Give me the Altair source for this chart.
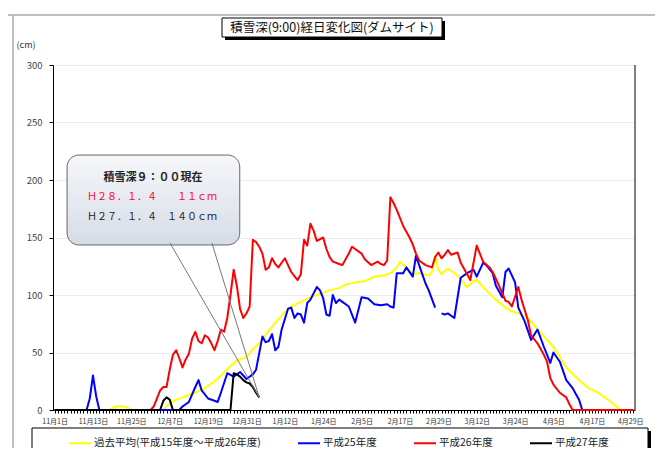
import altair as alt
import pandas as pd

FONT = "Noto Sans CJK JP"

# ---- axis labels (day index 0 = 11月1日, every 12 days) ----
x_labels = ["11月1日", "11月13日", "11月25日", "12月7日", "12月19日", "12月31日",
            "1月12日", "1月24日", "2月5日", "2月17日", "2月29日", "3月12日",
            "3月24日", "4月5日", "4月17日", "4月29日"]
label_step = 12
n_days = 182
y_ticks = [0, 50, 100, 150, 200, 250, 300]

series_names = ["過去平均(平成15年度～平成26年度)", "平成25年度", "平成26年度", "平成27年度"]
series_colors = ["#ffff00", "#0000ff", "#ff0000", "#000000"]
series_widths = [2, 2, 2, 4]

# ---- series: (day index, snow depth cm) ----
avg_points = [(0, 0), (17, 0), (19, 3), (22, 3), (24, 0), (34, 0), (36, 6), (38, 9), (40, 11),
              (42, 13), (44, 15), (47, 19), (50, 25), (52, 30), (55, 38), (57, 43), (60, 46),
              (62, 53), (64, 58), (67, 69), (70, 79), (72, 85), (74, 90), (77, 94), (80, 98),
              (83, 101), (86, 104), (89, 106), (91, 109), (94, 111), (97, 112), (100, 116),
              (103, 117), (105, 119), (107, 124), (108, 129), (110, 124), (112, 118), (114, 119),
              (117, 117), (118, 120), (119, 134), (120, 122), (121, 118), (122, 121), (123, 123),
              (126, 117), (129, 107), (131, 112), (132, 113), (135, 104), (138, 96), (142, 87),
              (145, 84), (148, 80), (152, 67), (156, 55), (160, 37), (164, 26), (167, 19),
              (170, 15), (174, 7), (177, 0), (181, 0)]

h25_points = [(0, 0), (10, 0), (11, 10), (12, 30), (13, 12), (14, 0), (39, 0), (40, 3), (42, 7),
              (44, 20), (45, 26), (46, 17), (48, 10), (50, 8), (51, 7), (52, 15), (54, 32),
              (56, 29), (58, 33), (60, 27), (62, 31), (63, 35), (65, 64), (66, 59), (67, 60),
              (68, 66), (69, 52), (70, 55), (71, 70), (73, 88), (74, 89), (75, 80), (76, 84),
              (77, 83), (78, 76), (79, 93), (80, 96), (82, 107), (83, 104), (84, 97), (85, 83),
              (86, 82), (87, 100), (88, 93), (89, 96), (90, 94), (92, 90), (94, 76), (96, 98),
              (98, 97), (100, 92), (102, 91), (104, 92), (105, 90), (106, 89), (107, 119),
              (109, 119), (110, 124), (112, 116), (113, 134), (115, 118), (116, 110), (117, 104),
              (119, 89), (120, None), (121, 84), (122, 83), (123, 84), (124, 82), (125, 80),
              (127, 115), (129, 119), (131, 122), (132, 116), (134, 128), (135, 126), (137, 119),
              (138, 108), (140, 98), (141, 120), (142, 123), (144, 111), (145, 89), (147, 77),
              (149, 61), (151, 70), (153, 55), (155, 41), (156, 50), (158, 42), (160, 26),
              (162, 19), (164, 9), (165, 0), (181, 0)]

h26_points = [(0, 0), (30, 0), (31, 3), (33, 17), (34, 20), (35, 20), (36, 35), (37, 48), (38, 52),
              (39, 45), (40, 37), (41, 44), (42, 49), (43, 62), (44, 68), (45, 60), (46, 58),
              (47, 65), (48, 63), (49, 58), (50, 52), (51, 60), (52, 70), (53, 68), (54, 80),
              (55, 100), (56, 122), (57, 108), (58, 88), (59, 80), (60, 84), (61, 90), (62, 148),
              (63, 146), (64, 142), (65, 136), (66, 122), (67, 124), (68, 132), (69, 127),
              (70, 124), (71, 128), (72, 132), (73, 126), (74, 120), (76, 113), (77, 118),
              (78, 148), (79, 143), (80, 162), (81, 156), (82, 147), (84, 150), (85, 140),
              (86, 133), (87, 129), (89, 127), (90, 126), (92, 136), (93, 142), (94, 140),
              (96, 136), (97, 131), (99, 126), (101, 129), (102, 127), (103, 126), (104, 130),
              (105, 185), (106, 180), (107, 174), (109, 160), (110, 155), (111, 150), (112, 144),
              (113, 136), (114, 130), (116, 126), (118, 124), (119, 133), (120, 137), (121, 132),
              (122, 135), (123, 139), (124, 135), (126, 137), (127, 128), (129, 118), (130, 113),
              (132, 143), (133, 136), (134, 129), (136, 124), (137, 120), (139, 108), (141, 95),
              (142, 94), (143, 90), (145, 107), (146, 96), (148, 78), (149, 65), (151, 58),
              (153, 48), (154, 42), (155, 28), (156, 22), (158, 15), (160, 11), (161, 5),
              (162, 0), (181, 0)]

h27_points = [(0, 0), (33, 0), (34, 8), (35, 11), (36, 9), (37, 0), (55, 0), (56, 32), (57, 31),
              (58, 29), (59, 26), (60, 24), (61, 23), (62, 20), (63, 15), (64, 11)]

# ---- callout text ----
callout_title = "積雪深９：００現在"
callout_rows = [("Ｈ２８．１．４", "１１ｃｍ", "#ff0033"), ("Ｈ２７．１．４", "１４０ｃｍ", "#222222")]
chart_title = "積雪深(9:00)経日変化図(ダムサイト)"

rows = []
for name, pts in zip(series_names, [avg_points, h25_points, h26_points, h27_points]):
    part = 0
    for d, v in pts:
        if v is None:
            part += 1
            continue
        rows.append({"day": d, "value": v, "series": name, "part": part})
df = pd.DataFrame(rows)

W, H = 582, 345
x_scale = alt.Scale(domain=[-0.5, n_days - 0.5], nice=False, zero=False)
y_scale = alt.Scale(domain=[0, 300], nice=False, zero=True)

label_arr = "[" + ",".join("'" + s + "'" for s in x_labels) + "]"
x_label_axis = alt.Axis(orient="bottom", values=[i * label_step for i in range(len(x_labels))],
                        labelExpr=label_arr + "[round(datum.value / " + str(label_step) + ")]",
                        ticks=False, domainColor="#000", labelFontSize=7,
                        labelFont=FONT, labelColor="#333", labelOverlap=False, labelFlush=False,
                        labelPadding=7, grid=False, title=None)
x_tick_axis = alt.Axis(orient="bottom", values=list(range(n_days)), labels=False, domain=False,
                       tickSize=3, tickColor="#000", grid=False, title=None)
y_axis = alt.Axis(values=y_ticks, tickSize=4, tickColor="#000", domainColor="#000",
                  labelFontSize=9.5, labelFont=FONT, labelColor="#444", labelPadding=7,
                  grid=True, gridColor="#ececec", title=None)

legend = alt.Legend(orient="none", legendX=15, legendY=366, direction="horizontal", title=None,
                    symbolType="stroke", symbolSize=484, labelFontSize=10.5, labelFont=FONT,
                    labelColor="#222", columnPadding=33, labelOffset=2, padding=0,
                    labelLimit=300)

lines = alt.Chart(df).mark_line(strokeJoin="round").encode(
    x=alt.X("day:Q", scale=x_scale, axis=x_label_axis),
    y=alt.Y("value:Q", scale=y_scale, axis=y_axis),
    color=alt.Color("series:N", scale=alt.Scale(domain=series_names, range=series_colors),
                    legend=legend),
    strokeWidth=alt.StrokeWidth("series:N",
                                scale=alt.Scale(domain=series_names, range=series_widths),
                                legend=legend),
    detail="part:N",
    order="day:Q",
)

one = pd.DataFrame({"k": [0]})

tick_layer = alt.Chart(one).mark_point(opacity=0, size=1).encode(
    x=alt.X("k:Q", scale=x_scale, axis=x_tick_axis),
    y=alt.value(0))

# callout (in data coordinates)
box_df = pd.DataFrame({"d1": [3.9], "d2": [57.9], "v1": [143.5], "v2": [221.7]})
callout = alt.Chart(box_df).mark_rect(
    cornerRadius=12, stroke="#666", strokeWidth=1,
    fill=alt.LinearGradient(gradient="linear",
                            stops=[alt.GradientStop(color="#f6f7fa", offset=0),
                                   alt.GradientStop(color="#d6dce6", offset=1)],
                            x1=0, x2=0, y1=0, y2=1)
).encode(x=alt.X("d1:Q", axis=None), x2="d2:Q", y="v1:Q", y2="v2:Q")

tip_d, tip_v = h27_points[-1]
wedge_df = pd.DataFrame({"bd": [36.1, 49.2], "bv": [145.2, 145.2],
                         "td": [tip_d, tip_d], "tv": [tip_v, tip_v]})
wedge = alt.Chart(wedge_df).mark_rule(color="#777", strokeWidth=1).encode(
    x=alt.X("bd:Q", axis=None), y="bv:Q", x2="td:Q", y2="tv:Q")

t_title = alt.Chart(pd.DataFrame({"day": [30.8], "value": [201.7], "t": [callout_title]})).mark_text(
    font=FONT, fontSize=11, fontWeight="bold", color="#222", align="center", baseline="middle"
).encode(x=alt.X("day:Q", axis=None), y="value:Q", text="t:N")

text_layers = []
for (left, right, col), v in zip(callout_rows, [185.2, 167.8]):
    tdf = pd.DataFrame({"day": [10.1], "day2": [50.8], "value": [v], "l": [left], "r": [right]})
    text_layers.append(alt.Chart(tdf).mark_text(font=FONT, fontSize=10, color=col, align="left",
                                                baseline="middle").encode(
        x=alt.X("day:Q", axis=None), y="value:Q", text="l:N"))
    text_layers.append(alt.Chart(tdf).mark_text(font=FONT, fontSize=10, color=col, align="right",
                                                baseline="middle").encode(
        x=alt.X("day2:Q", axis=None), y="value:Q", text="r:N"))

# decorations (pixel positions relative to plot area)
right_border = alt.Chart(one).mark_rule(color="#000", strokeWidth=1).encode(
    x=alt.value(W), y=alt.value(0), y2=alt.value(H))
top_line = alt.Chart(one).mark_rule(color="#aaa", strokeWidth=1.5).encode(
    x=alt.value(-45), x2=alt.value(W + 20), y=alt.value(-50))
left_line = alt.Chart(one).mark_rule(color="#aaa", strokeWidth=1.5).encode(
    x=alt.value(-40), y=alt.value(-50), y2=alt.value(H + 45))

title_shadow = alt.Chart(one).mark_rect(color="#000").encode(
    x=alt.value(172), x2=alt.value(392), y=alt.value(-44), y2=alt.value(-25))
title_box = alt.Chart(one).mark_rect(fill="#fff", stroke="#000", strokeWidth=1).encode(
    x=alt.value(169), x2=alt.value(389), y=alt.value(-47), y2=alt.value(-28))
title_text = alt.Chart(one).mark_text(font=FONT, fontSize=12.5, color="#111", align="center",
                                      baseline="middle", text=chart_title).encode(
    x=alt.value(279), y=alt.value(-37.5))
cm_text = alt.Chart(one).mark_text(font=FONT, fontSize=9, color="#333", align="center",
                                   baseline="middle", text="(cm)").encode(
    x=alt.value(-27), y=alt.value(-20))

leg_shadow = alt.Chart(one).mark_rect(color="#000").encode(
    x=alt.value(-18), x2=alt.value(598), y=alt.value(366), y2=alt.value(387))
leg_box = alt.Chart(one).mark_rect(fill="#fff", stroke="#000", strokeWidth=1).encode(
    x=alt.value(-21), x2=alt.value(595), y=alt.value(363), y2=alt.value(384))

chart = alt.layer(
    lines, tick_layer, top_line, left_line, title_shadow, title_box, title_text, cm_text,
    leg_shadow, leg_box, right_border, callout, wedge, t_title, *text_layers
).resolve_axis(x="independent").properties(
    width=W, height=H,
    autosize=alt.AutoSizeParams(type="none"),
    padding={"left": 45, "top": 57, "right": 20, "bottom": 38},
    background="#ffffff",
).configure_view(stroke=None)

chart.save("out.html", embed_options={"renderer": "svg", "actions": False})
